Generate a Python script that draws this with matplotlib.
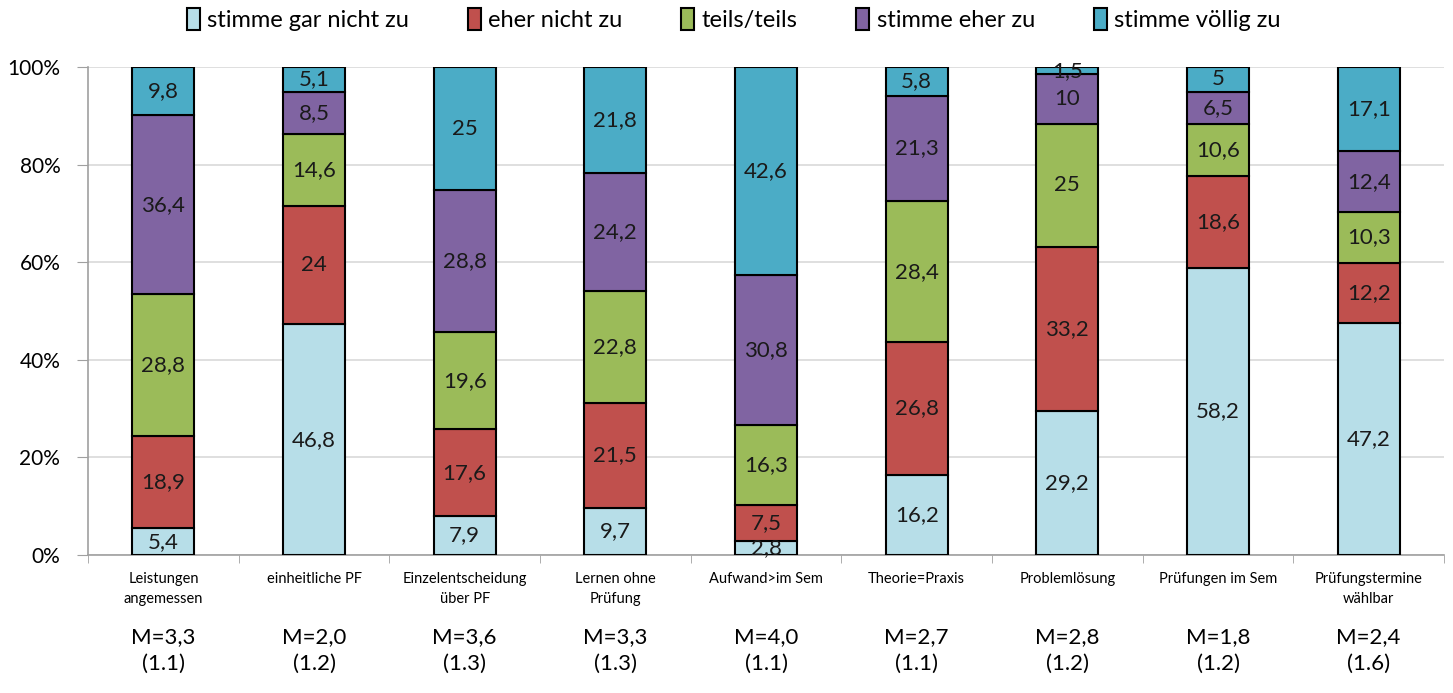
import matplotlib
matplotlib.use("Agg")
import matplotlib.pyplot as plt
import matplotlib.transforms as mtransforms
import numpy as np

plt.rcParams["font.family"] = ["Lato", "DejaVu Sans"]

categories = [
    "Leistungen\nangemessen", "einheitliche PF", "Einzelentscheidung\nüber PF",
    "Lernen ohne\nPrüfung", "Aufwand>im Sem", "Theorie=Praxis",
    "Problemlösung", "Prüfungen im Sem", "Prüfungstermine\nwählbar",
]
series_names = ["stimme gar nicht zu", "eher nicht zu", "teils/teils",
                "stimme eher zu", "stimme völlig zu"]
gar_nicht = [5.4, 46.8, 7.9, 9.7, 2.8, 16.2, 29.2, 58.2, 47.2]
eher_nicht = [18.9, 24, 17.6, 21.5, 7.5, 26.8, 33.2, 18.6, 12.2]
teils = [28.8, 14.6, 19.6, 22.8, 16.3, 28.4, 25, 10.6, 10.3]
eher_zu = [36.4, 8.5, 28.8, 24.2, 30.8, 21.3, 10, 6.5, 12.4]
voellig = [9.8, 5.1, 25, 21.8, 42.6, 5.8, 1.5, 5, 17.1]
means = ["3,3", "2,0", "3,6", "3,3", "4,0", "2,7", "2,8", "1,8", "2,4"]
sds = ["1.1", "1.2", "1.3", "1.3", "1.1", "1.1", "1.2", "1.2", "1.6"]

COLORS = ["#B7DEE8", "#C0504D", "#9BBB59", "#8064A2", "#4BACC6"]

data = np.array([gar_nicht, eher_nicht, teils, eher_zu, voellig])
shares = data / data.sum(axis=0) * 100  # 100% stacked

fig = plt.figure(figsize=(14.53, 6.93), dpi=100)
ax = fig.add_axes([0.0606, 0.1991, 0.9332, 0.7042])

x = np.arange(len(categories))
bottom = np.zeros(len(categories))
for i, name in enumerate(series_names):
    bars = ax.bar(x, shares[i], bottom=bottom, width=0.41, color=COLORS[i],
                  edgecolor="black", linewidth=1.5, label=name, zorder=3)
    ax.bar_label(bars, labels=[f"{v:g}".replace(".", ",") for v in data[i]],
                 label_type="center", fontsize=16, color="#1a1a1a", zorder=4)
    bottom += shares[i]

ax.set_xlim(-0.5, len(categories) - 0.5)
ax.set_ylim(0, 100)
ax.set_yticks(np.arange(0, 101, 20))
ax.set_yticklabels([f"{v}%" for v in range(0, 101, 20)], fontsize=15)
ax.yaxis.grid(True, color="#D9D9D9", linewidth=1.2, zorder=0)
ax.set_axisbelow(True)

ax.set_xticks(x)
ax.set_xticklabels(categories, fontsize=10.5, linespacing=1.6)
ax.set_xticks(np.arange(-0.5, len(categories), 1), minor=True)
ax.tick_params(axis="x", which="major", length=0, pad=12)
ax.tick_params(axis="x", which="minor", length=6, color="#A0A0A0", direction="out")
ax.tick_params(axis="y", length=8, color="#A0A0A0", pad=12)

for side in ["top", "right"]:
    ax.spines[side].set_visible(False)
for side in ["left", "bottom"]:
    ax.spines[side].set_color("#A0A0A0")
    ax.spines[side].set_linewidth(1.2)

trans = mtransforms.blended_transform_factory(ax.transData, fig.transFigure)
for xi, m, s in zip(x, means, sds):
    ax.text(xi, 0.061, f"M={m}\n({s})", transform=trans, ha="center", va="center",
            fontsize=16, linespacing=1.4)

fig.legend(loc="center", bbox_to_anchor=(0.505, 0.972), ncol=5, frameon=False,
           fontsize=17, handlelength=0.55, handleheight=1.1, handletextpad=0.3,
           columnspacing=2.5)

fig.savefig("out.png", dpi=100, facecolor="white")
